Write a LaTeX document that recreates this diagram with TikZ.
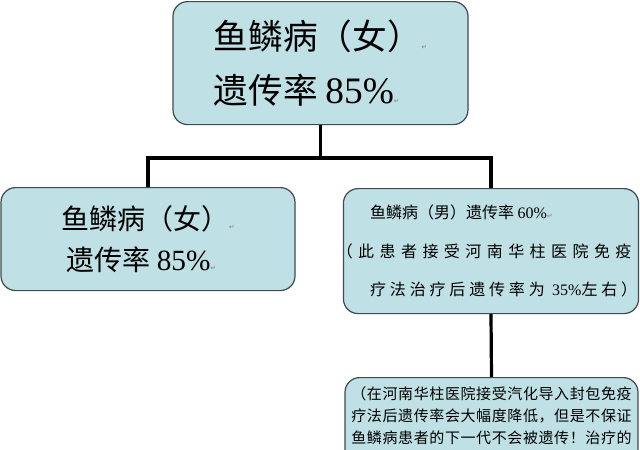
\documentclass[tikz,border=0pt]{standalone}
\usepackage{fontspec}
\setmainfont{Liberation Serif}
\newfontfamily\cjk{Noto Sans CJK SC}
\newfontfamily\cjkwide[LetterSpace=34]{Noto Sans CJK SC}
\newfontfamily\cjkmid[LetterSpace=24]{Noto Sans CJK SC}
\newfontfamily\cjknarrow[LetterSpace=4]{Noto Sans CJK SC}
\newfontfamily\markfont{DejaVu Sans}
\usepackage{tikz}
\usetikzlibrary{positioning}
\usepackage{xcolor}
\definecolor{boxfill}{HTML}{BFE0E4}
\definecolor{boxline}{HTML}{3F4B50}
\newcommand{\parmark}{{\markfont\fontsize{5pt}{5pt}\selectfont\textcolor{gray}{↵}}}

\begin{document}
\begin{tikzpicture}[x=0.75pt, y=-0.75pt,
    box/.style={draw=boxline, fill=boxfill, line width=0.9pt, rounded corners=11pt, anchor=north, align=left, inner sep=2pt},
    link/.style={draw=black, line width=2.4pt}]
  \useasboundingbox (0,0) rectangle (640,450);
  \clip (0,0) rectangle (640,450);

  % top box
  \node[box, minimum width=295*0.75pt, minimum height=123*0.75pt, font=\cjk\fontsize{26pt}{40.5pt}\selectfont] (female) at (320.5,1)
    {鱼鳞病（女）\parmark\\ 遗传率 {\rmfamily\fontsize{28pt}{40.5pt}\selectfont 85\%}\parmark};

  % second row
  \node[box, minimum width=294*0.75pt, minimum height=103*0.75pt, font=\cjk\fontsize{21pt}{30.75pt}\selectfont] (daughter) at (148,187)
    {鱼鳞病（女）\parmark\\ \hspace*{4pt}遗传率 {\rmfamily\fontsize{22pt}{30.75pt}\selectfont 85\%}\parmark};
  \node[box, minimum width=292*0.75pt, minimum height=125*0.75pt, inner xsep=1pt, font=\cjk\fontsize{12pt}{29pt}\selectfont] (son) at (491,188)
    {\hspace*{19pt}鱼鳞病（男）遗传率 {\rmfamily 60\%}\parmark\\
     \makebox[214pt][l]{\hspace*{-6pt}{\cjkwide （此患者接受河南华柱医院免疫}}\\
     \hspace*{19pt}{\cjkmid 疗法治疗后遗传率为 {\rmfamily 35\%}左右）}};

  % bottom box, runs past the edge
  \node[box, minimum width=293*0.75pt, inner ysep=7pt, text depth=60pt, font=\cjknarrow\fontsize{11.25pt}{16.5pt}\selectfont] (treatment) at (491.5,377)
    {（在河南华柱医院接受汽化导入封包免疫\\
     疗法后遗传率会大幅度降低，但是不保证\\
     鱼鳞病患者的下一代不会被遗传！治疗的};

  % connectors
  \coordinate (split) at (320.5,158);
  \draw[link] (female.south) -- (female.south |- split);
  \draw[link] (daughter.north) -- (daughter.north |- split) -- (son.north |- split) -- (son.north);
  \draw[link] (son.south) -- (treatment.north);
\end{tikzpicture}
\end{document}
